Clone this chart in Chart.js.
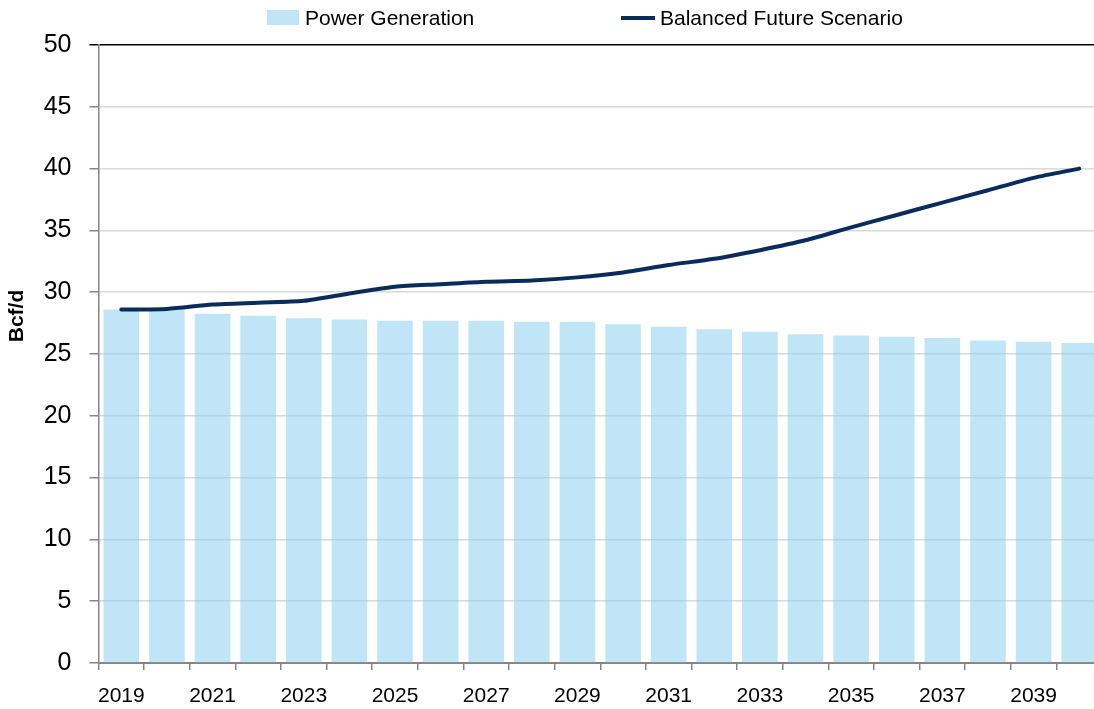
<!DOCTYPE html>
<html>
<head>
<meta charset="utf-8">
<script src="https://cdn.jsdelivr.net/npm/chart.js@4/dist/chart.umd.min.js"></script>
<style>
	html, body {
		margin: 0;
		padding: 0;
		background: #fff;
		overflow: hidden;
	}
	.wrap {
		position: relative;
		width: 1102px;
		height: 709px;
	}
	#legend-container {
		position: absolute;
		top: 0;
		left: 0;
		width: 100%;
		height: 40px;
		font-family: 'Liberation Sans', sans-serif;
		font-size: 21px;
		line-height: 21px;
		color: #000;
	}
	.legend-item {
		position: absolute;
		top: 7px;
		display: flex;
		align-items: center;
		white-space: nowrap;
	}
	.legend-box {
		width: 32px;
		height: 15px;
		margin-right: 6px;
	}
	.legend-line {
		width: 34px;
		height: 4px;
		margin-right: 5px;
	}
</style>
</head>
<body>
<div class="wrap">
	<canvas id="chart"></canvas>
	<div id="legend-container"></div>
</div>
<script>
/* ==========================================================================
 Data
 ========================================================================== */

const years = [
	'2019', '2020', '2021', '2022', '2023', '2024', '2025', '2026', '2027', '2028', '2029',
	'2030', '2031', '2032', '2033', '2034', '2035', '2036', '2037', '2038', '2039', '2040',
];
const powerGeneration = [
	28.6, 28.6, 28.25, 28.1, 27.9, 27.8, 27.7, 27.7, 27.7, 27.6, 27.6,
	27.4, 27.2, 27.0, 26.8, 26.6, 26.5, 26.4, 26.3, 26.1, 26.0, 25.9,
];
const balancedFuture = [
	28.6, 28.65, 29.0, 29.15, 29.3, 29.9, 30.45, 30.65, 30.85, 30.95, 31.2,
	31.6, 32.2, 32.7, 33.4, 34.2, 35.25, 36.25, 37.25, 38.25, 39.25, 40.0,
];
const yTicks = [0, 5, 10, 15, 20, 25, 30, 35, 40, 45, 50];

const barColor = 'rgba(140, 208, 240, 0.55)';
const lineColor = '#0a2c5c';
const axisColor = '#868686';
const fontFamily = "'Liberation Sans', sans-serif";

/* ==========================================================================
 HTML Legend
 ========================================================================== */

const legendItems = [
	{text: 'Power Generation', type: 'box', color: 'rgb(192, 229, 247)', left: 267},
	{text: 'Balanced Future Scenario', type: 'line', color: lineColor, left: 621},
];

const legendContainer = document.getElementById('legend-container');

legendItems.forEach(item => {
	const el = document.createElement('div');
	el.className = 'legend-item';
	el.style.left = item.left + 'px';

	const mark = document.createElement('span');
	mark.className = item.type === 'box' ? 'legend-box' : 'legend-line';
	mark.style.background = item.color;

	const text = document.createElement('span');
	text.textContent = item.text;

	el.appendChild(mark);
	el.appendChild(text);
	legendContainer.appendChild(el);
});

/* ==========================================================================
 Y axis title
 ========================================================================== */

const yTitlePlugin = {
	id: 'yTitle',
	afterDraw(chart, args, options) {
		const {ctx} = chart;
		ctx.save();
		ctx.translate(options.x, options.y);
		ctx.rotate(-Math.PI / 2);
		ctx.font = 'bold 21px ' + fontFamily;
		ctx.fillStyle = '#000';
		ctx.textAlign = 'center';
		ctx.textBaseline = 'middle';
		ctx.fillText(options.text, 0, 0);
		ctx.restore();
	}
};

/* ==========================================================================
 Config
 ========================================================================== */

const config = {
	data: {
		labels: years,
		datasets: [
			{
				type: 'line',
				label: 'Balanced Future Scenario',
				data: balancedFuture,
				borderColor: lineColor,
				borderWidth: 4,
				pointRadius: 0,
				tension: 0.25,
				borderCapStyle: 'round',
				order: 0,
			},
			{
				type: 'bar',
				label: 'Power Generation',
				data: powerGeneration,
				backgroundColor: barColor,
				borderWidth: 0,
				barPercentage: 0.78,
				categoryPercentage: 1,
				order: 1,
			},
		],
	},
	options: {
		responsive: true,
		maintainAspectRatio: false,
		animation: false,
		layout: {
			padding: {
				top: 45,
				right: 0,
				bottom: 0,
				left: 0,
			},
		},
		scales: {
			x: {
				afterFit(scale) {
					scale.height = 46;
				},
				grid: {
					drawOnChartArea: false,
					drawTicks: true,
					tickLength: 7,
					color: axisColor,
					lineWidth: 1.5,
				},
				border: {
					color: axisColor,
					width: 2,
				},
				ticks: {
					autoSkip: false,
					maxRotation: 0,
					padding: 14,
					color: '#000',
					font: {
						size: 21,
						family: fontFamily,
					},
					callback: function (value, index) {
						return index % 2 === 0 ? years[index] : '';
					},
				},
			},
			y: {
				min: 0,
				max: 50,
				afterFit(scale) {
					scale.width = 98.5;
				},
				afterBuildTicks(scale) {
					scale.ticks = yTicks.map(v => ({value: v}));
				},
				grid: {
					color: ctx => (ctx.tick && ctx.tick.value === 50 ? '#000' : '#d9d9d9'),
					tickColor: ctx => (ctx.tick && ctx.tick.value === 50 ? '#000' : axisColor),
					lineWidth: 1.5,
					tickLength: 9,
				},
				border: {
					color: axisColor,
					width: 1.5,
				},
				ticks: {
					padding: 18,
					color: '#000',
					font: {
						size: 25,
						family: fontFamily,
					},
				},
			},
		},
		plugins: {
			legend: {
				display: false,
			},
			tooltip: {
				enabled: false,
			},
			yTitle: {
				text: 'Bcf/d',
				x: 17.5,
				y: 316,
			},
		},
	},
	plugins: [yTitlePlugin],
};

/* ==========================================================================
 Render
 ========================================================================== */

const myChart = new Chart(document.getElementById('chart'), config);
</script>
</body>
</html>
